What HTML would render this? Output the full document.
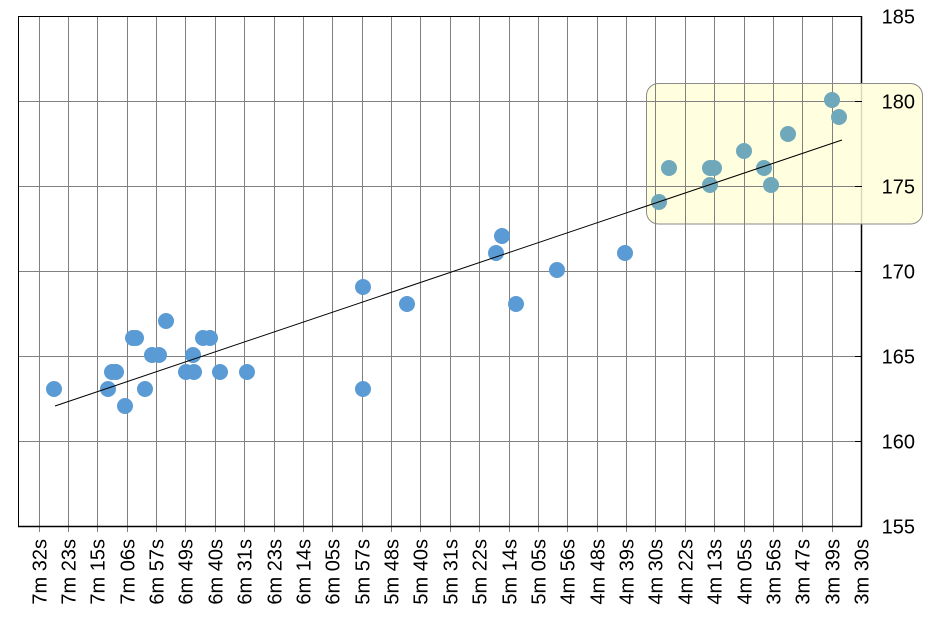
<!DOCTYPE html>
<html><head><style>body{margin:0;background:#fff}svg{display:block;font-family:"Liberation Sans",Arial,sans-serif}</style></head>
<body>
<svg width="934" height="622" viewBox="0 0 934 622" xmlns="http://www.w3.org/2000/svg">
<g id="grid" stroke="#808080" stroke-width="1"></g>
<rect x="18.5" y="16.5" width="843" height="510" fill="none" stroke="#000" stroke-width="1"/>
<line x1="861.5" y1="16" x2="861.5" y2="527" stroke="#000" stroke-width="1.5"/>
<line x1="18" y1="526.5" x2="862" y2="526.5" stroke="#000" stroke-width="1.5"/>
<rect x="646.5" y="83.5" width="276" height="140.5" rx="12" fill="#ffffd9" fill-opacity="0.85" stroke="#8a8a8a" stroke-width="1"/>
<g id="grid2" stroke="#808080" stroke-width="1"></g>
<g id="pts"></g>
<line x1="55" y1="406" x2="842" y2="140" stroke="#000" stroke-width="1"/>
<g id="ylab" font-size="20" fill="#000"></g>
<g id="xlab" font-size="20" fill="#000"></g>
<script>
var ns="http://www.w3.org/2000/svg";
function el(t,a,p,txt){var e=document.createElementNS(ns,t);for(var k in a)e.setAttribute(k,a[k]);if(txt)e.textContent=txt;document.getElementById(p).appendChild(e);return e;}
var labs=["7m 32s","7m 23s","7m 15s","7m 06s","6m 57s","6m 49s","6m 40s","6m 31s","6m 23s","6m 14s","6m 05s","5m 57s","5m 48s","5m 40s","5m 31s","5m 22s","5m 14s","5m 05s","4m 56s","4m 48s","4m 39s","4m 30s","4m 22s","4m 13s","4m 05s","3m 56s","3m 47s","3m 39s","3m 30s"];
for(var i=0;i<29;i++){var x=Math.round(38.5+i*29.375)+0.5;
 if(i<28){el("line",{x1:x,y1:16,x2:x,y2:532},"grid");
 if(x>646&&x<923)el("line",{x1:x,y1:84,x2:x,y2:224},"grid2");}
 el("text",{transform:"translate("+(x+7)+",539) rotate(-90)","text-anchor":"end"},"xlab",labs[i]);}
for(var v=155;v<=185;v+=5){var y=16+(185-v)*17+0.5;
 if(v>155&&v<185){el("line",{x1:18,y1:y,x2:861,y2:y},"grid");
 if(y>84&&y<224)el("line",{x1:647,y1:y,x2:861,y2:y},"grid2");}
 el("line",{x1:855,y1:y,x2:862,y2:y,stroke:"#000"},"grid2");
 el("text",{x:915,y:y+7,"text-anchor":"end"},"ylab",""+v);}
var b=[[54,389],[108,389],[112,372],[116,372],[125,406],[133,338],[136,338],[145,389],[152,355],[159,355],[166,321],[186,372],[193,355],[194,372],[203,338],[210,338],[220,372],[247,372],[363,287],[363,389],[407,304],[496,253],[502,236],[516,304],[557,270],[625,253]];
var t=[[659,202],[669,168],[710,168],[714,168],[710,185],[744,151],[764,168],[771,185],[788,134],[832,100],[839,117]];
b.forEach(function(p){el("circle",{cx:p[0],cy:p[1],r:8,fill:"#5b9bd5"},"pts");});
t.forEach(function(p){el("circle",{cx:p[0],cy:p[1],r:8,fill:"#6fa8ba"},"pts");});
</script>
</svg>
</body></html>
